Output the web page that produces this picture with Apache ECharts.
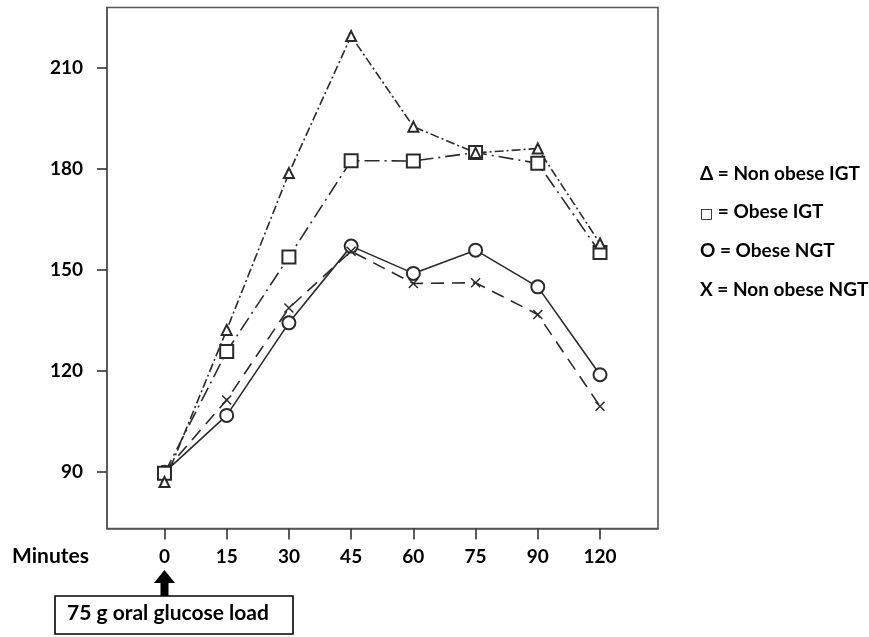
<!DOCTYPE html>
<html>
<head>
<meta charset="utf-8">
<script src="https://cdn.jsdelivr.net/npm/echarts@6/dist/echarts.min.js"></script>
<style>
  html, body { margin: 0; padding: 0; background: #fff; }
  #chart { width: 869px; height: 637px; }
</style>
</head>
<body>
<div id="chart"></div>
<script>
// time points (minutes) drawn at equal spacing
const minutes = ["0", "15", "30", "45", "60", "75", "90", "120"];
const yTicks = [90, 120, 150, 180, 210];

const nonObeseIGT = [86.9, 132.1, 178.7, 219.4, 192.5, 184.7, 186.0, 157.8];
const obeseIGT = [89.5, 125.7, 153.8, 182.4, 182.3, 184.8, 181.6, 155.1];
const obeseNGT = [89.8, 106.7, 134.2, 157, 148.9, 155.8, 144.9, 118.8];
const nonObeseNGT = [90, 111.3, 138.6, 155.5, 145.9, 146.1, 136.7, 109.4];

const legendLines = ["Δ = Non obese IGT", "{s|□} = Obese IGT", "O = Obese NGT", "X = Non obese NGT"];

const font = "Lato, 'Open Sans', sans-serif";
const ink = "#2a2a2a";

function pts(values) {
  return values.map((v, i) => [i, v]);
}

const chart = echarts.init(document.getElementById("chart"));

function series(name, values, symbol, size, dash) {
  return {
    name: name,
    type: "line",
    data: pts(values),
    symbol: symbol,
    symbolSize: size,
    showSymbol: true,
    lineStyle: { color: ink, width: 1.6, type: dash },
    itemStyle: { color: ink, borderWidth: 1.4 },
    z: 3,
  };
}

const xSeries = series("Non obese NGT", nonObeseNGT, "path://M0,0L10,10M10,0L0,10", 9, [13, 8]);
xSeries.itemStyle = { color: "none", borderColor: ink, borderWidth: 1.5 };

chart.setOption({
  animation: false,
  grid: {
    left: 107, top: 7.5, right: 211, bottom: 108.5,
    show: true, borderColor: "#555", borderWidth: 1.6,
  },
  xAxis: {
    type: "value",
    min: -0.924,
    max: 7.932,
    splitLine: { show: false },
    axisLine: { show: true, onZero: false, lineStyle: { color: "#555", width: 1.6 } },
    axisTick: {
      show: true, length: 11, inside: false,
      customValues: [0, 1, 2, 3, 4, 5, 6, 7],
      lineStyle: { color: "#333", width: 1.6 },
    },
    axisLabel: {
      customValues: [0, 1, 2, 3, 4, 5, 6, 7],
      formatter: (v) => minutes[Math.round(v)],
      margin: 19,
      color: "#000",
      fontFamily: font,
      fontWeight: "bold",
      fontSize: 19,
    },
  },
  yAxis: {
    type: "value",
    min: 73.1,
    max: 227.9,
    splitLine: { show: false },
    axisLine: { show: true, onZero: false, lineStyle: { color: "#555", width: 1.6 } },
    axisTick: {
      show: true, length: 10,
      customValues: yTicks,
      lineStyle: { color: "#333", width: 1.6 },
    },
    axisLabel: {
      customValues: yTicks,
      margin: 24,
      color: "#000",
      fontFamily: font,
      fontWeight: "bold",
      fontSize: 19,
    },
  },
  series: [
    series("Obese NGT", obeseNGT, "emptyCircle", 13, "solid"),
    xSeries,
    series("Obese IGT", obeseIGT, "emptyRect", 13, [15, 5, 2, 5]),
    series("Non obese IGT", nonObeseIGT, "emptyTriangle", 10, [9, 3, 2, 3]),
  ],
  graphic: [
    {
      type: "text", left: 12, top: 546,
      style: { text: "Minutes", fill: "#000", font: "bold 21px " + font },
    },
    {
      type: "polygon",
      shape: { points: [[164.5, 570], [154, 583], [160.5, 583], [160.5, 597], [168.5, 597], [168.5, 583], [175, 583]] },
      style: { fill: "#000" },
    },
    {
      type: "rect",
      shape: { x: 55, y: 596, width: 238, height: 38 },
      style: { fill: "#fff", stroke: "#000", lineWidth: 1.6 },
    },
    {
      type: "text", left: 67, top: 603,
      style: { text: "75 g oral glucose load", fill: "#000", font: "bold 21px " + font },
    },
  ].concat(legendLines.map((t, i) => ({
    type: "text", left: 700, top: 164 + i * 38.7,
    style: {
      text: t, fill: "#000", font: "bold 19px " + font,
      rich: { s: { fontSize: 14, fontWeight: "normal", fontFamily: "'DejaVu Sans', sans-serif", padding: [4, 0, 0, 0] } },
    },
  }))),
});
</script>
</body>
</html>
